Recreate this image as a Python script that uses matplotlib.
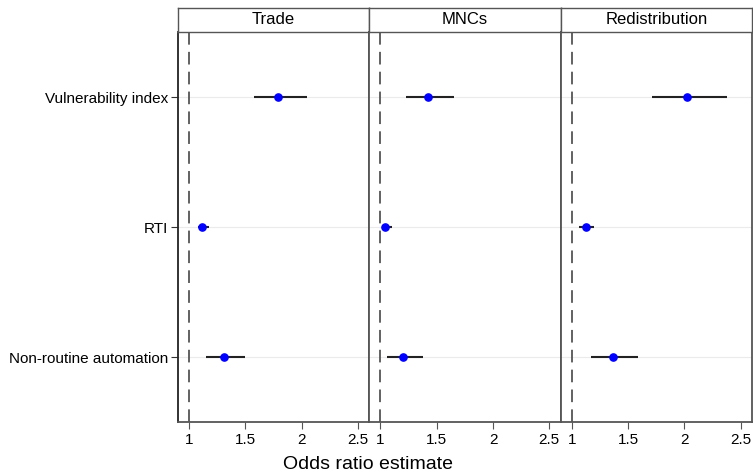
import matplotlib
matplotlib.use("Agg")
import matplotlib.pyplot as plt
import numpy as np

plt.rcParams['font.family'] = ['Liberation Sans', 'DejaVu Sans']

panels = ["Trade", "MNCs", "Redistribution"]
predictors = ["Vulnerability index", "RTI", "Non-routine automation"]

estimates = {
    "Trade":          [1.79, 1.115, 1.31],
    "MNCs":           [1.42, 1.04, 1.20],
    "Redistribution": [2.02, 1.13, 1.37],
}
ci_low = {
    "Trade":          [1.576, 1.08, 1.15],
    "MNCs":           [1.23, 1.01, 1.06],
    "Redistribution": [1.715, 1.065, 1.17],
}
ci_high = {
    "Trade":          [2.05, 1.18, 1.50],
    "MNCs":           [1.65, 1.10, 1.375],
    "Redistribution": [2.38, 1.195, 1.59],
}
xticks = [1, 1.5, 2, 2.5]
xticklabels = ["1", "1.5", "2", "2.5"]

W, H = 753, 475
fig = plt.figure(figsize=(W / 100, H / 100), dpi=100)

left_px, right_px = 177.7, 752.0
top_px, bottom_px = 32.0, 422.0
strip_top_px = 8.0
pw = (right_px - left_px) / 3

frame_col = "#555555"
ypos = np.arange(1, len(predictors) + 1)

for i, p in enumerate(panels):
    x0 = (left_px + i * pw) / W
    ax = fig.add_axes([x0, 1 - bottom_px / H, pw / W, (bottom_px - top_px) / H])
    ax.set_xlim(0.9, 2.6)
    ax.set_ylim(3.5, 0.5)
    for y in ypos:
        ax.axhline(y, color="#ebebeb", lw=0.8, zorder=0)
    ax.axvline(1, color="#555555", lw=1.3, ls=(0, (7, 4)), zorder=1)
    ax.hlines(ypos, ci_low[p], ci_high[p], color="#222222", lw=1.5, zorder=2)
    ax.plot(estimates[p], ypos, "o", color="#0000ff", ms=5.2, zorder=3)
    ax.set_xticks(xticks)
    ax.set_xticklabels(xticklabels, fontsize=11)
    ax.tick_params(axis="x", direction="out", length=5, color="#555555", pad=3)
    if i == 0:
        ax.set_yticks(ypos)
        ax.set_yticklabels(predictors, fontsize=11)
        ax.tick_params(axis="y", direction="out", length=5, color="#333333", pad=2)
    else:
        ax.set_yticks([])
    for s in ax.spines.values():
        s.set_color(frame_col)
        s.set_linewidth(1.3)
    ax.spines["left"].set_color("#222222" if i == 0 else frame_col)

    # strip
    sax = fig.add_axes([x0, 1 - top_px / H, pw / W, (top_px - strip_top_px) / H])
    sax.set_xticks([])
    sax.set_yticks([])
    for s in sax.spines.values():
        s.set_color(frame_col)
        s.set_linewidth(1.0)
    sax.text(0.5, 0.5, p, ha="center", va="center", fontsize=12, transform=sax.transAxes)

fig.text(368 / W, 1 - 469 / H, "Odds ratio estimate", ha="center", va="baseline", fontsize=14)

fig.savefig("out.png", dpi=100)
